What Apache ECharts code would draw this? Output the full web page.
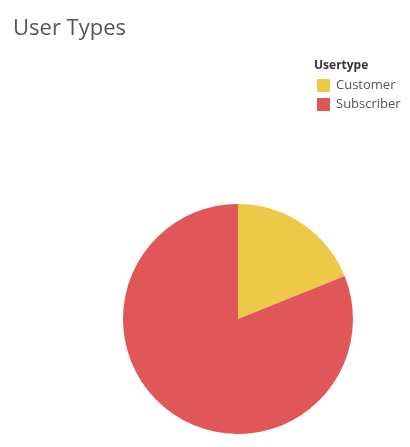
<!DOCTYPE html>
<html><head><meta charset="utf-8">
<script src="https://cdn.jsdelivr.net/npm/echarts@6/dist/echarts.min.js"></script>
<style>html,body{margin:0;padding:0;background:#fff}#c{width:410px;height:447px}</style>
</head><body><div id="c"></div>
<script>
const categories = ["Customer", "Subscriber"];
const values = [18.9, 81.1];
const colors = ["#EDC948", "#E15759"];
const chart = echarts.init(document.getElementById('c'));
chart.setOption({
  animation: false,
  title: { text: "User Types", left: 8, top: 13, textStyle: { fontFamily: "Open Sans", fontSize: 22, fontWeight: 'normal', color: '#555' } },
  graphic: [{ type: 'text', left: 314, top: 60, style: { text: 'Usertype', font: 'bold 12px "Open Sans"', fill: '#333' } }],
  legend: {
    orient: 'vertical', left: 317, top: 79, padding: 0, icon: 'rect', itemWidth: 13, itemHeight: 13, itemGap: 6,
    textStyle: { fontFamily: 'Open Sans', fontSize: 13, color: '#555', padding: [0, 0, 0, 1] },
    data: categories
  },
  series: [{
    type: 'pie', center: [238, 319], radius: 115, startAngle: 90, clockwise: true,
    label: { show: false }, labelLine: { show: false },
    data: categories.map((c, i) => ({ name: c, value: values[i], itemStyle: { color: colors[i] } }))
  }]
});
</script></body></html>
